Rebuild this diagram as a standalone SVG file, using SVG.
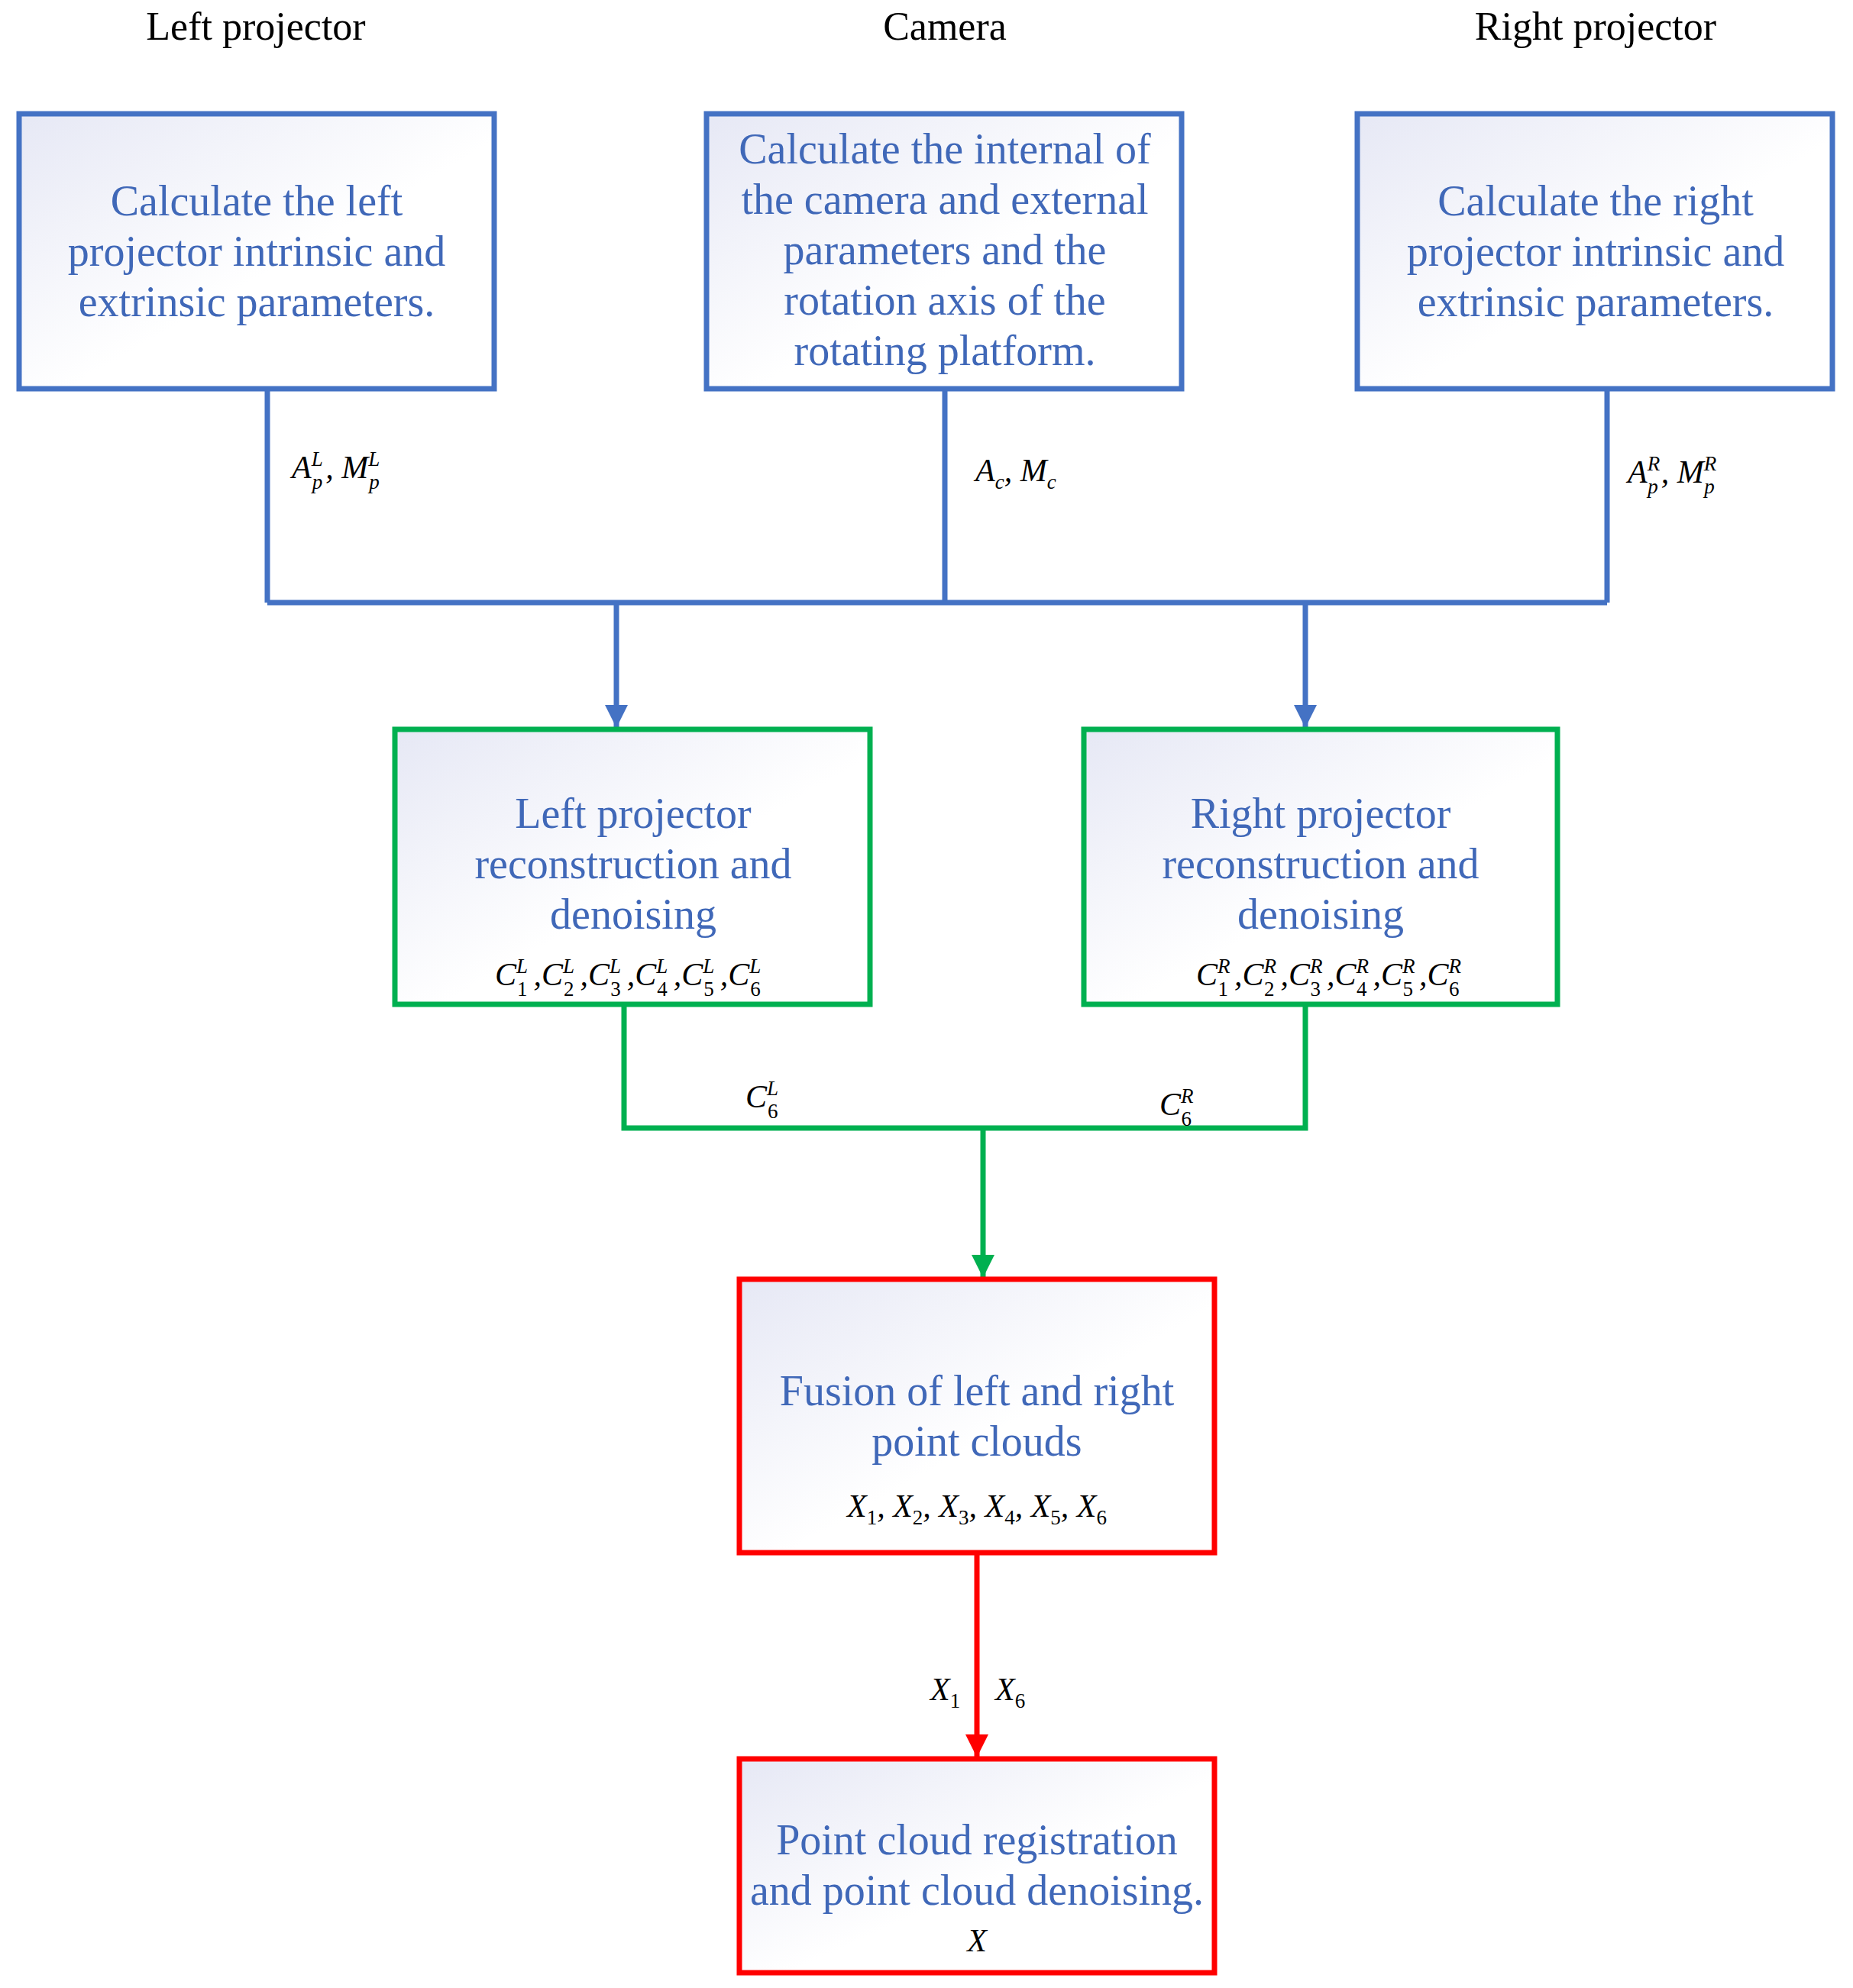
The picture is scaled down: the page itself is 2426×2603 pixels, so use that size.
<svg xmlns="http://www.w3.org/2000/svg" width="2426" height="2603" viewBox="0 0 2426 2603">
<style>
.t{font-family:"Liberation Serif",serif;font-size:52px;fill:#000;text-anchor:middle}
.b{font-family:"Liberation Serif",serif;font-size:56px;fill:#4068B8;text-anchor:middle}
.m{font-family:"Liberation Serif",serif;font-size:42px;font-style:italic;fill:#000}
.mc{text-anchor:middle}
.s{font-size:27px}
.n{font-size:27px;font-style:normal}
.box{stroke-width:7;fill:url(#g)}
.bl{stroke:#4472C4}.gr{stroke:#00B050}.rd{stroke:#FF0000}
.c{fill:none;stroke-width:7}
</style>
<defs>
<linearGradient id="g" x1="0" y1="0" x2="1" y2="1"><stop offset="0" stop-color="#E6E8F5"/><stop offset="0.55" stop-color="#FFFFFF"/></linearGradient>
<marker id="ag" viewBox="0 0 10 10" refX="5" refY="10" markerWidth="30" markerHeight="32" markerUnits="userSpaceOnUse" orient="0"><path d="M0,0 L10,0 L5,10 z" fill="#00B050"/></marker>
<marker id="ab2" viewBox="0 0 10 10" refX="5" refY="10" markerWidth="30" markerHeight="32" markerUnits="userSpaceOnUse" orient="0"><path d="M0,0 L10,0 L5,10 z" fill="#4472C4"/></marker>
<marker id="ar" viewBox="0 0 10 10" refX="5" refY="10" markerWidth="30" markerHeight="32" markerUnits="userSpaceOnUse" orient="0"><path d="M0,0 L10,0 L5,10 z" fill="#FF0000"/></marker>
</defs>
<rect width="2426" height="2603" fill="#fff"/>
<g id="titles">
<text class="t" x="335" y="52">Left projector</text>
<text class="t" x="1237" y="52">Camera</text>
<text class="t" x="2089" y="52">Right projector</text>
</g>
<g id="connectors">
<path class="c bl" d="M350,509 V789 M1237,509 V789 M2104,509 V789 M350,789 H2104"/>
<path class="c bl" d="M807,789 V953" marker-end="url(#ab2)"/>
<path class="c bl" d="M1709,789 V953" marker-end="url(#ab2)"/>
<path class="c gr" d="M817,1315 V1477 H1709 V1315"/>
<path class="c gr" d="M1287,1477 V1673" marker-end="url(#ag)"/>
<path class="c rd" d="M1279,2033 V2301" marker-end="url(#ar)"/>
<text class="m" x="382" y="626">A<tspan class="s" dy="-16">L</tspan><tspan class="s" dx="-14" dy="30">p</tspan><tspan dy="-14" dx="4">, M</tspan><tspan class="s" dy="-16">L</tspan><tspan class="s" dx="-14" dy="30">p</tspan></text>
<text class="m" x="1277" y="630">A<tspan class="s" dy="10">c</tspan><tspan dy="-10">, M</tspan><tspan class="s" dy="10">c</tspan></text>
<text class="m" x="2131" y="632">A<tspan class="s" dy="-16">R</tspan><tspan class="s" dx="-16" dy="30">p</tspan><tspan dy="-14" dx="4">, M</tspan><tspan class="s" dy="-16">R</tspan><tspan class="s" dx="-16" dy="30">p</tspan></text>
<text class="m" x="976" y="1450">C<tspan class="s" dy="-16">L</tspan><tspan class="n" dx="-14" dy="30">6</tspan></text>
<text class="m" x="1518" y="1460">C<tspan class="s" dy="-16">R</tspan><tspan class="n" dx="-16" dy="30">6</tspan></text>
<text class="m" x="1218" y="2226">X<tspan class="n" dy="10">1</tspan></text>
<text class="m" x="1303" y="2226">X<tspan class="n" dy="10">6</tspan></text>
</g>
<g id="left-recon-math-holder"/>
<g id="left-calib">
<rect class="box bl" x="25" y="149" width="622" height="360"/>
<text class="b" x="336" y="282">Calculate the left</text>
<text class="b" x="336" y="348">projector intrinsic and</text>
<text class="b" x="336" y="414">extrinsic parameters.</text>
</g>
<g id="camera-calib">
<rect class="box bl" x="925" y="149" width="622" height="360"/>
<text class="b" x="1237" y="214">Calculate the internal of</text>
<text class="b" x="1237" y="280">the camera and external</text>
<text class="b" x="1237" y="346">parameters and the</text>
<text class="b" x="1237" y="412">rotation axis of the</text>
<text class="b" x="1237" y="478">rotating platform.</text>
</g>
<g id="right-calib">
<rect class="box bl" x="1777" y="149" width="622" height="360"/>
<text class="b" x="2089" y="282">Calculate the right</text>
<text class="b" x="2089" y="348">projector intrinsic and</text>
<text class="b" x="2089" y="414">extrinsic parameters.</text>
</g>
<g id="left-recon">
<rect class="box gr" x="517" y="955" width="622" height="360"/>
<text class="b" x="829" y="1084">Left projector</text>
<text class="b" x="829" y="1150">reconstruction and</text>
<text class="b" x="829" y="1216">denoising</text>
<text class="m" x="648" y="1290">C<tspan class="s" dy="-16">L</tspan><tspan class="n" dx="-14" dy="30">1</tspan><tspan dy="-14" dx="8">,C</tspan><tspan class="s" dy="-16">L</tspan><tspan class="n" dx="-14" dy="30">2</tspan><tspan dy="-14" dx="8">,C</tspan><tspan class="s" dy="-16">L</tspan><tspan class="n" dx="-14" dy="30">3</tspan><tspan dy="-14" dx="8">,C</tspan><tspan class="s" dy="-16">L</tspan><tspan class="n" dx="-14" dy="30">4</tspan><tspan dy="-14" dx="8">,C</tspan><tspan class="s" dy="-16">L</tspan><tspan class="n" dx="-14" dy="30">5</tspan><tspan dy="-14" dx="8">,C</tspan><tspan class="s" dy="-16">L</tspan><tspan class="n" dx="-14" dy="30">6</tspan></text>
</g>
<g id="right-recon">
<rect class="box gr" x="1419" y="955" width="620" height="360"/>
<text class="b" x="1729" y="1084">Right projector</text>
<text class="b" x="1729" y="1150">reconstruction and</text>
<text class="b" x="1729" y="1216">denoising</text>
<text class="m" x="1566" y="1290">C<tspan class="s" dy="-16">R</tspan><tspan class="n" dx="-16" dy="30">1</tspan><tspan dy="-14" dx="8">,C</tspan><tspan class="s" dy="-16">R</tspan><tspan class="n" dx="-16" dy="30">2</tspan><tspan dy="-14" dx="8">,C</tspan><tspan class="s" dy="-16">R</tspan><tspan class="n" dx="-16" dy="30">3</tspan><tspan dy="-14" dx="8">,C</tspan><tspan class="s" dy="-16">R</tspan><tspan class="n" dx="-16" dy="30">4</tspan><tspan dy="-14" dx="8">,C</tspan><tspan class="s" dy="-16">R</tspan><tspan class="n" dx="-16" dy="30">5</tspan><tspan dy="-14" dx="8">,C</tspan><tspan class="s" dy="-16">R</tspan><tspan class="n" dx="-16" dy="30">6</tspan></text>
</g>
<g id="fusion">
<rect class="box rd" x="968" y="1675" width="622" height="358"/>
<text class="b" x="1279" y="1840">Fusion of left and right</text>
<text class="b" x="1279" y="1906">point clouds</text>
<text class="m mc" x="1279" y="1986">X<tspan class="n" dy="10">1</tspan><tspan dy="-10">, X</tspan><tspan class="n" dy="10">2</tspan><tspan dy="-10">, X</tspan><tspan class="n" dy="10">3</tspan><tspan dy="-10">, X</tspan><tspan class="n" dy="10">4</tspan><tspan dy="-10">, X</tspan><tspan class="n" dy="10">5</tspan><tspan dy="-10">, X</tspan><tspan class="n" dy="10">6</tspan></text>
</g>
<g id="registration">
<rect class="box rd" x="968" y="2303" width="622" height="280"/>
<text class="b" x="1279" y="2428">Point cloud registration</text>
<text class="b" x="1279" y="2494">and point cloud denoising.</text>
<text class="m mc" x="1279" y="2555">X</text>
</g>
</svg>
